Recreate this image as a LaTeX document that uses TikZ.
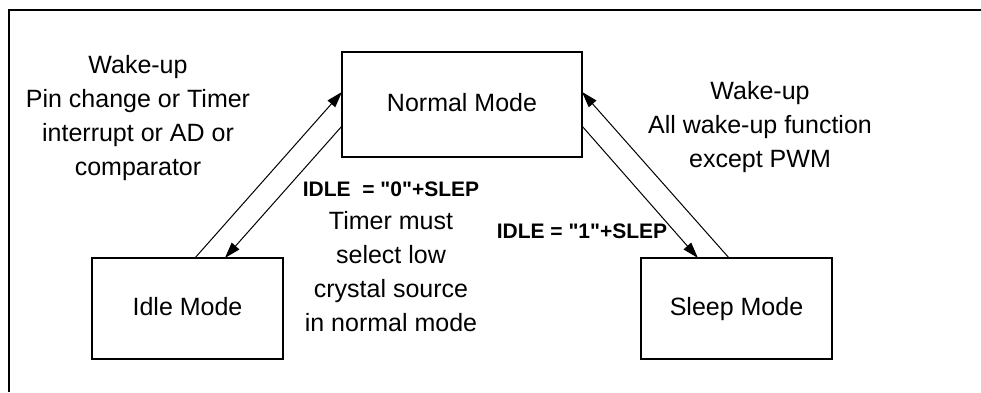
\documentclass[tikz,border=0pt]{standalone}
\usepackage{fontspec}
\setmainfont{Liberation Sans}[Ligatures=TeXOff]
\usetikzlibrary{arrows.meta,calc}
\begin{document}
\begin{tikzpicture}[x=1pt,y=-1pt,
  modebox/.style={draw,line width=2.5pt,inner sep=0pt,outer sep=0pt,minimum width=191pt,minimum height=101pt,text height=18pt,text depth=5pt,font=\fontsize{25}{34}\selectfont},
  lbl/.style={align=center,inner sep=0pt,font=\fontsize{25}{34}\selectfont},
  boldlbl/.style={inner sep=0pt,font=\fontsize{21}{28}\selectfont\bfseries},
  conn/.style={line width=1pt,-{Triangle[length=16pt,width=10pt]}}]
\useasboundingbox (0,0) rectangle (981,392);
\draw[line width=2pt] (9,392) -- (9,10) -- (981,10);
\node[modebox,minimum width=240pt,minimum height=105pt] (normal) at (462,104.5) {Normal Mode};
\node[modebox] (idle) at (187.5,308.5) {Idle Mode};
\node[modebox] (sleep) at (736.5,308.5) {Sleep Mode};
\node[lbl] (wl) at (138,118.5) {Wake-up\\Pin change or Timer\\interrupt or AD or\\comparator};
\node[lbl] (wr) at (760,127.5) {Wake-up\\All wake-up function\\except PWM};
\node[boldlbl] (i0) at (391,189) {IDLE\ \ = "0"+SLEP};
\node[lbl] (tm) at (391,271.5) {Timer must\\select low\\crystal source\\in normal mode};
\node[boldlbl] (i1) at (582,231) {IDLE = "1"+SLEP};
\draw[conn] ($(idle.north west)!0.539!(idle.north east)$) -- ($(normal.north west)!0.38!(normal.south west)$);
\draw[conn] ($(normal.north west)!0.705!(normal.south west)$) -- ($(idle.north west)!0.696!(idle.north east)$);
\draw[conn] ($(normal.north east)!0.705!(normal.south east)$) -- ($(sleep.north west)!0.298!(sleep.north east)$);
\draw[conn] ($(sleep.north west)!0.461!(sleep.north east)$) -- ($(normal.north east)!0.38!(normal.south east)$);
\end{tikzpicture}
\end{document}
